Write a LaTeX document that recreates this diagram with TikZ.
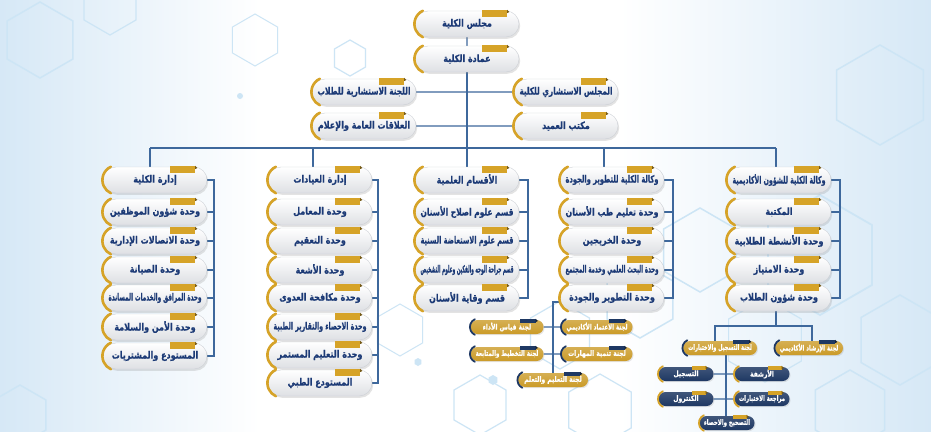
\documentclass[tikz,border=0pt]{standalone}
\usepackage{fontspec}
\usepackage{graphicx}
\usetikzlibrary{shapes.misc,shadows,calc}
\TeXXeTstate=1
\newfontfamily\arabicfont[Script=Arabic, FakeBold=0.8]{DejaVu Sans Bold}
\definecolor{navytext}{RGB}{28,58,118}
\definecolor{gold}{RGB}{214,163,40}
\definecolor{cgold}{RGB}{203,155,40}
\definecolor{navy}{RGB}{30,56,99}
\definecolor{linecol}{RGB}{62,104,156}
\definecolor{pillgrey}{RGB}{222,224,228}
\definecolor{pilledge}{RGB}{205,208,214}
\definecolor{bgblue}{RGB}{214,232,246}
\definecolor{hexcol}{RGB}{205,229,245}
\pgfdeclarelayer{back}
\pgfdeclarelayer{lines}
\pgfsetlayers{back,lines,main}
\newsavebox\arbox
% #1 maximum width, #2 text (already wrapped in \beginR ... \endR)
\newcommand\artext[2]{%
  \sbox\arbox{\arabicfont #2}%
  \pgfmathsetmacro\arratio{min(0.8,#1/\the\wd\arbox)}%
  \scalebox{\arratio}[1]{\usebox\arbox}}
% name, arc colour, tab colour, half height, arc width, tab start, tab end, tab height
\newcommand\pilldeco[8]{%
  \pgfmathsetmacro\arR{#4+1.6}%
  \draw[#2, line width=#5pt, line cap=round]
    ($(#1.west)+(#4+1.2,0)+(245:\arR)$) arc[start angle=245, end angle=115, radius=\arR];
  \fill[#3] ($(#1.north -| #1.east)+(-#6,-1)$) rectangle ($(#1.north -| #1.east)+(-#7,#8)$);
  \fill[#3!55!black] ($(#1.north -| #1.east)+(-#7,-1)$) -- ++(2.2,2.2) -- ++(-2.2,1) -- cycle;
}
\newcommand\gp[4]{%
  \node[gpill] (#1) at (#2,#3) {\artext{93}{#4}};
  \pilldeco{#1}{gold}{gold}{13}{2.6}{37}{12}{6}}
\newcommand\cp[5]{%
  \node[cpill, minimum width=#4pt] (#1) at (#2,#3) {\artext{#4*0.86}{#5}};
  \pilldeco{#1}{navy}{navy}{7}{1.8}{24}{8}{3}}
\newcommand\np[4]{%
  \node[npill] (#1) at (#2,#3) {\artext{46}{#4}};
  \pilldeco{#1}{gold}{gold}{7}{1.8}{22}{8}{3}}
\newcommand\hexa[4]{%
  \draw[hexcol, line width=#4pt] (#1,#2) ++(30:#3) -- ++(150:#3) -- ++(210:#3) -- ++(270:#3) -- ++(330:#3) -- ++(30:#3) -- cycle;}
\begin{document}
\begin{tikzpicture}[x=1pt,y=-1pt,
  conn/.style={draw=linecol, line width=1.1pt},
  gpill/.style={rounded rectangle, minimum width=104pt, minimum height=26pt, inner sep=0pt,
    top color=white, bottom color=pillgrey, draw=pilledge, line width=0.4pt,
    drop shadow={opacity=0.22, shadow xshift=1.2pt, shadow yshift=-1.8pt},
    text=navytext, font=\fontsize{10}{11}\selectfont},
  cpill/.style={rounded rectangle, minimum height=14pt, inner sep=0pt,
    top color=cgold!80!white, bottom color=cgold, draw=none,
    drop shadow={opacity=0.2, shadow xshift=1pt, shadow yshift=-1.2pt},
    text=white, font=\fontsize{7.5}{8}\selectfont},
  npill/.style={rounded rectangle, minimum height=14pt, minimum width=55pt, inner sep=0pt,
    top color=navy!85!white, bottom color=navy, draw=none,
    drop shadow={opacity=0.2, shadow xshift=1pt, shadow yshift=-1.2pt},
    text=white, font=\fontsize{7.5}{8}\selectfont}]
\useasboundingbox (0,0) rectangle (931,431);
\begin{pgfonlayer}{back}
  \fill[white] (0,0) rectangle (931,431);
  \fill[left color=bgblue, right color=white] (0,0) rectangle (260,431);
  \fill[left color=white, right color=bgblue] (620,0) rectangle (931,431);
  \hexa{40}{40}{38}{1.5}
  \hexa{110}{5}{30}{1.2}
  \hexa{350}{58}{18}{1.2}
  \hexa{255}{40}{26}{1.0}
  \hexa{20}{415}{30}{1.5}
  \hexa{880}{95}{50}{1.5}
  \hexa{700}{250}{42}{1.5}
  \hexa{820}{255}{60}{1.8}
  \hexa{900}{340}{45}{1.5}
  \hexa{850}{410}{40}{1.5}
  \hexa{640}{300}{38}{1.5}
  \hexa{560}{335}{34}{1.2}
  \hexa{600}{410}{36}{1.2}
  \hexa{480}{405}{30}{1.2}
  \hexa{400}{330}{26}{1.0}
  \hexa{765}{340}{42}{1.2}
  \fill[hexcol] (493,380) ++(30:5) -- ++(150:5) -- ++(210:5) -- ++(270:5) -- ++(330:5) -- ++(30:5) -- cycle;
  \fill[hexcol] (418,362) ++(30:4) -- ++(150:4) -- ++(210:4) -- ++(270:4) -- ++(330:4) -- ++(30:4) -- cycle;
  \fill[hexcol] (240,96) circle (3);
\end{pgfonlayer}

% top
\gp{council}{467}{24}{\beginR مجلس الكلية\endR}
\gp{deanship}{467}{59}{\beginR عمادة الكلية\endR}
\gp{advcouncil}{566}{92}{\beginR المجلس الاستشاري للكلية\endR}
\gp{deanoffice}{566}{126}{\beginR مكتب العميد\endR}
\gp{studadv}{364}{92}{\beginR اللجنة الاستشارية للطلاب\endR}
\gp{pr}{364}{126}{\beginR العلاقات العامة والإعلام\endR}

% column 1
\gp{a0}{155}{180}{\beginR إدارة الكلية\endR}
\gp{a1}{155}{212}{\beginR وحدة شؤون الموظفين\endR}
\gp{a2}{155}{241}{\beginR وحدة الاتصالات الإدارية\endR}
\gp{a3}{155}{270}{\beginR وحدة الصيانة\endR}
\gp{a4}{155}{298}{\beginR وحدة المرافق والخدمات المساندة\endR}
\gp{a5}{155}{327}{\beginR وحدة الأمن والسلامة\endR}
\gp{a6}{155}{356}{\beginR المستودع والمشتريات\endR}

% column 2
\gp{b0}{320}{180}{\beginR إدارة العيادات\endR}
\gp{b1}{320}{212}{\beginR وحدة المعامل\endR}
\gp{b2}{320}{241}{\beginR وحدة التعقيم\endR}
\gp{b3}{320}{270}{\beginR وحدة الأشعة\endR}
\gp{b4}{320}{298}{\beginR وحدة مكافحة العدوى\endR}
\gp{b5}{320}{327}{\beginR وحدة الاحصاء والتقارير الطبية\endR}
\gp{b6}{320}{355}{\beginR وحدة التعليم المستمر\endR}
\gp{b7}{320}{383}{\beginR المستودع الطبي\endR}

% column 3
\gp{c0}{467}{180}{\beginR الأقسام العلمية\endR}
\gp{c1}{467}{212}{\beginR قسم علوم اصلاح الأسنان\endR}
\gp{c2}{467}{241}{\beginR قسم علوم الاستعاضة السنية\endR}
\gp{c3}{467}{270}{\beginR قسم جراحة الوجه والفكين وعلوم التشخيص\endR}
\gp{c4}{467}{298}{\beginR قسم وقاية الأسنان\endR}

% column 4
\gp{d0}{612}{180}{\beginR وكالة الكلية للتطوير والجودة\endR}
\gp{d1}{612}{212}{\beginR وحدة تعليم طب الأسنان\endR}
\gp{d2}{612}{241}{\beginR وحدة الخريجين\endR}
\gp{d3}{612}{270}{\beginR وحدة البحث العلمي وخدمة المجتمع\endR}
\gp{d4}{612}{298}{\beginR وحدة التطوير والجودة\endR}

% column 5
\gp{e0}{779}{180}{\beginR وكالة الكلية للشؤون الأكاديمية\endR}
\gp{e1}{779}{212}{\beginR المكتبة\endR}
\gp{e2}{779}{241}{\beginR وحدة الأنشطة الطلابية\endR}
\gp{e3}{779}{270}{\beginR وحدة الامتياز\endR}
\gp{e4}{779}{298}{\beginR وحدة شؤون الطلاب\endR}

% committees (quality)
\cp{q1}{507}{327}{73}{\beginR لجنة قياس الأداء\endR}
\cp{q2}{597}{327}{71}{\beginR لجنة الاعتماد الأكاديمي\endR}
\cp{q3}{507}{354}{73}{\beginR لجنة التخطيط والمتابعة\endR}
\cp{q4}{597}{354}{71}{\beginR لجنة تنمية المهارات\endR}
\cp{q5}{553}{380}{70}{\beginR لجنة التعليم والتعلم\endR}

% committees (academic)
\cp{r1}{720}{348}{74}{\beginR لجنة التسجيل والاختبارات\endR}
\cp{r2}{809}{348}{68}{\beginR لجنة الإرشاد الأكاديمي\endR}
\np{n1}{762}{374}{\beginR الأرشفة\endR}
\np{n2}{686}{374}{\beginR التسجيل\endR}
\np{n3}{686}{399}{\beginR الكنترول\endR}
\np{n4}{762}{399}{\beginR مراجعة الاختبارات\endR}
\np{n5}{727}{423}{\beginR التصحيح والاحصاء\endR}

\begin{pgfonlayer}{lines}
  \draw[conn] (council) -- (deanship);
  \draw[conn] (deanship.south) -- (c0.north);
  \draw[conn] (studadv) -- (advcouncil);
  \draw[conn] (pr) -- (deanoffice);
  \coordinate (bus1) at (150,148);
  \coordinate (bus2) at (313,148);
  \coordinate (bus4) at (604,148);
  \coordinate (bus5) at (776,148);
  \draw[conn] (bus1) -- (bus5);
  \draw[conn] (bus1) -- (bus1 |- a0.north);
  \draw[conn] (bus2) -- (bus2 |- b0.north);
  \draw[conn] (bus4) -- (bus4 |- d0.north);
  \draw[conn] (bus5) -- (bus5 |- e0.north);
  \coordinate (k1) at (214,0);
  \coordinate (k2) at (378,0);
  \coordinate (k3) at (528,0);
  \coordinate (k4) at (673,0);
  \coordinate (k5) at (840,0);
  \draw[conn] (a0.east) -- (a0.east -| k1) -- (a6.east -| k1) -- (a6.east);
  \foreach \r in {a1,a2,a3,a4,a5} \draw[conn] (\r.east) -- (\r.east -| k1);
  \draw[conn] (b0.east) -- (b0.east -| k2) -- (b7.east -| k2) -- (b7.east);
  \foreach \r in {b1,b2,b3,b4,b5,b6} \draw[conn] (\r.east) -- (\r.east -| k2);
  \draw[conn] (c0.east) -- (c0.east -| k3) -- (c4.east -| k3) -- (c4.east);
  \foreach \r in {c1,c2,c3} \draw[conn] (\r.east) -- (\r.east -| k3);
  \draw[conn] (d0.east) -- (d0.east -| k4) -- (d4.east -| k4) -- (d4.east);
  \foreach \r in {d1,d2,d3} \draw[conn] (\r.east) -- (\r.east -| k4);
  \draw[conn] (e0.east) -- (e0.east -| k5) -- (e4.east -| k5) -- (e4.east);
  \foreach \r in {e1,e2,e3} \draw[conn] (\r.east) -- (\r.east -| k5);
  % quality committees
  \coordinate (dq) at (553,302);
  \draw[conn] (d4.center |- dq) -- (dq) -- (dq |- q5.north);
  \draw[conn] (q1) -- (q2);
  \draw[conn] (q3) -- (q4);
  % academic committees
  \coordinate (rt) at (776,326);
  \coordinate (rl) at (715,326);
  \coordinate (rr) at (812,326);
  \draw[conn] (e4.south -| rt) -- (rt);
  \draw[conn] (rl |- r1.north) -- (rl) -- (rr) -- (rr |- r2.north);
  \coordinate (rv) at (726,0);
  \draw[conn] (r1.south -| rv) -- (n5.north -| rv);
  \draw[conn] (n2) -- (n1);
  \draw[conn] (n3) -- (n4);
\end{pgfonlayer}
\end{tikzpicture}
\end{document}
